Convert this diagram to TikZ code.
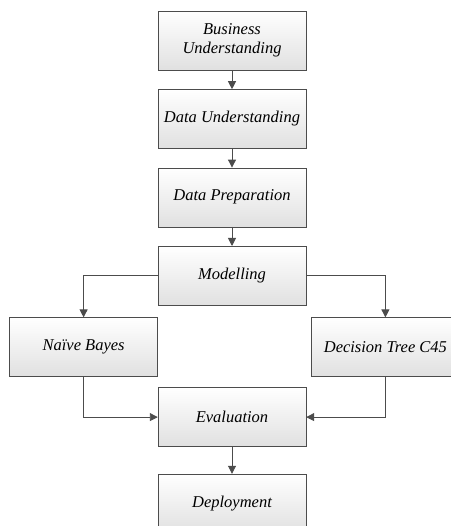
\documentclass[tikz,border=0pt]{standalone}
\usepackage{fontspec}
\setmainfont{Liberation Serif}
\usetikzlibrary{shapes,arrows.meta,positioning}

\begin{document}
\begin{tikzpicture}[
    x=1pt, y=1pt,
    node distance=19pt,
    phase/.style={rectangle, draw=black!70, top color=white, bottom color=black!12, minimum width=148pt, minimum height=59pt, align=center, font=\fontsize{16.5}{19}\selectfont\itshape},
    arrow/.style={-{Triangle[length=8pt,width=8pt]}, draw=black!70, line width=0.9pt}
]
\useasboundingbox (0,0) rectangle (450,526);

% Main CRISP-DM column
\node[phase] (business) at (232,485.5) {Business\\Understanding};
\node[phase, below=of business] (dataund) {Data Understanding};
\node[phase, below=of dataund] (dataprep) {Data Preparation};
\node[phase, below=of dataprep] (modelling) {Modelling};

% Algorithms
\node[phase, below left=12pt and 0pt of modelling.south west] (naive) {Naïve Bayes};
\node[phase, below right=12pt and 5pt of modelling.south east] (tree) {Decision Tree C45};

\node[phase, below=82pt of modelling] (evaluation) {Evaluation};
\node[phase, below=27pt of evaluation] (deployment) {Deployment};

% Connections
\draw[arrow] (business) -- (dataund);
\draw[arrow] (dataund) -- (dataprep);
\draw[arrow] (dataprep) -- (modelling);

\draw[arrow] (modelling.west) -| (naive);
\draw[arrow] (modelling.east) -| (tree);

\draw[arrow] (naive) |- (evaluation);
\draw[arrow] (tree) |- (evaluation);

\draw[arrow] (evaluation) -- (deployment);

\end{tikzpicture}
\end{document}
